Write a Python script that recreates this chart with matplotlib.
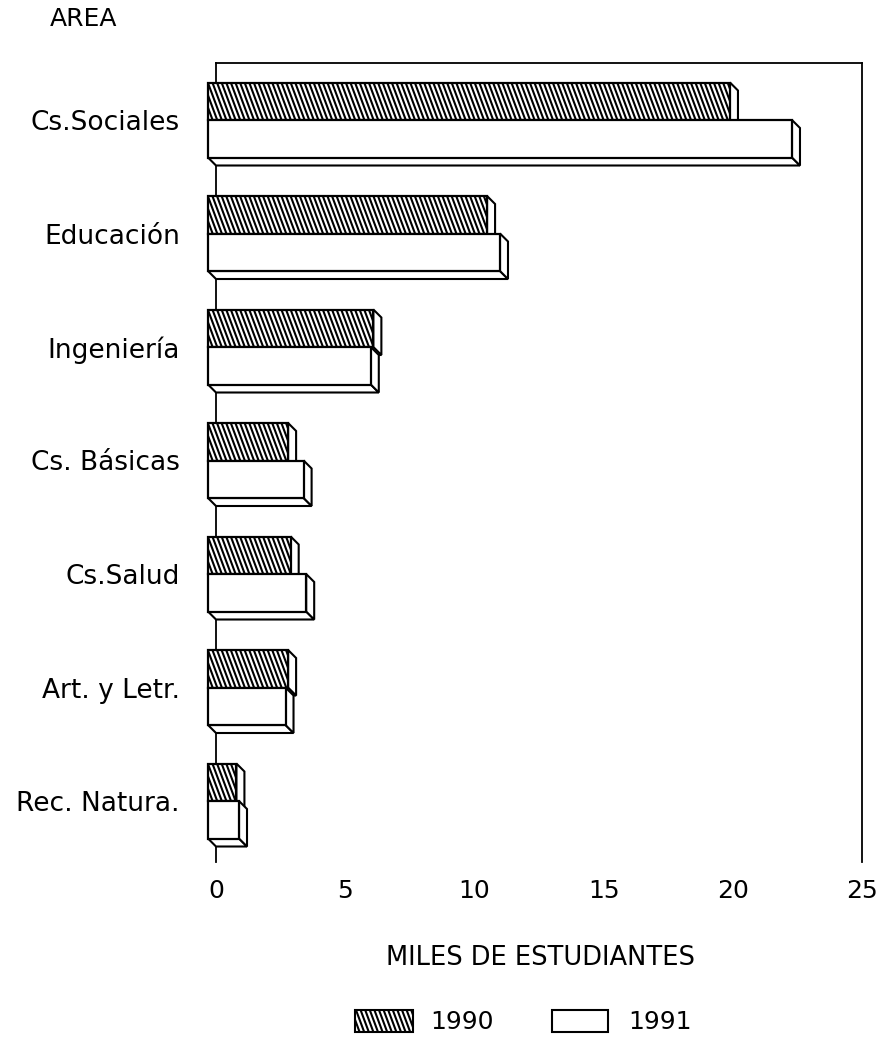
import matplotlib
matplotlib.use("Agg")
import matplotlib.pyplot as plt
import numpy as np
from matplotlib.patches import Polygon, Rectangle
from matplotlib.collections import LineCollection

categories = ['Cs.Sociales', 'Educación', 'Ingeniería', 'Cs. Básicas',
              'Cs.Salud', 'Art. y Letr.', 'Rec. Natura.']
v1990 = [20.2, 10.8, 6.4, 3.1, 3.2, 3.1, 1.1]
v1991 = [22.6, 11.3, 6.3, 3.7, 3.8, 3.0, 1.2]
xticks = [0, 5, 10, 15, 20, 25]
series_labels = ['1990', '1991']

plt.rcParams['font.family'] = ['DejaVu Sans']

W, H = 884, 1043
fig = plt.figure(figsize=(W / 100, H / 100), dpi=100)
L, R, T, B = 216, 862, 63, 862
ax = fig.add_axes([L / W, 1 - B / H, (R - L) / W, (B - T) / H])
ax.set_xlim(0, 25)
spacing_px = 113.5
ytop = -(128 - 63) / spacing_px
ybot = ytop + (B - T) / spacing_px
ax.set_ylim(ybot, ytop)

px_per_unit = (R - L) / 25
dx = 8 / px_per_unit
dy = 8 / spacing_px
bh = 37.5 / spacing_px

HATCH_STEP_PX = 4.6
HATCH_SHIFT_PX = 14.0
HATCH_LW = 1.5

z = [3]


def hatch_lines(x0, x1, yt, yb, step, shift):
    xs = np.arange(x0 - shift, x1 + step, step)
    return [[(x, yt), (x + shift, yb)] for x in xs]


def bar3d(v, y0, y1, hatched):
    kw = dict(closed=True, fc='white', ec='black', lw=1.5, clip_on=False,
              joinstyle='miter')
    zz = z[0]
    ax.add_patch(Polygon([(-dx, y1 - dy), (0, y1), (v, y1), (v - dx, y1 - dy)],
                         zorder=zz, **kw))
    ax.add_patch(Polygon([(v - dx, y0 - dy), (v, y0), (v, y1), (v - dx, y1 - dy)],
                         zorder=zz, **kw))
    fx0, fx1, fy0, fy1 = -dx, v - dx, y0 - dy, y1 - dy
    front = Polygon([(fx0, fy0), (fx1, fy0), (fx1, fy1), (fx0, fy1)],
                    closed=True, fc='white', ec='none', clip_on=False,
                    zorder=zz + 0.2)
    ax.add_patch(front)
    if hatched:
        segs = hatch_lines(fx0, fx1, fy0, fy1,
                           HATCH_STEP_PX / px_per_unit,
                           HATCH_SHIFT_PX / px_per_unit)
        lc = LineCollection(segs, colors='black', lw=HATCH_LW, zorder=zz + 0.3)
        ax.add_collection(lc)
        lc.set_clip_on(True)
        lc.set_clip_box(None)
        lc.set_clip_path(front)
    ax.add_patch(Rectangle((fx0, fy0), v, y1 - y0, fc='none', ec='black',
                           lw=1.6, clip_on=False, zorder=zz + 0.5))
    z[0] += 1


for i, (a, b) in enumerate(zip(v1990, v1991)):
    bar3d(a, i - bh, i, True)
    bar3d(b, i, i + bh, False)

ax.set_yticks([i - dy for i in range(len(categories))])
ax.set_yticklabels(categories, fontsize=19)
ax.tick_params(axis='y', length=0, pad=26)
ax.set_xticks(xticks)
ax.set_xticklabels([str(t) for t in xticks], fontsize=18)
ax.tick_params(axis='x', length=0, pad=12)

for s in ['left', 'top', 'right']:
    ax.spines[s].set_linewidth(1.3)
ax.spines['bottom'].set_visible(False)

fig.text(50 / W, 1 - 19 / H, 'AREA', fontsize=18, ha='left', va='center')
fig.text(540 / W, 1 - 958 / H, 'MILES DE ESTUDIANTES', fontsize=18.5,
         ha='center', va='center')

# legend (drawn in figure pixel space)
lax = fig.add_axes([0, 0, 1, 1], facecolor='none')
lax.set_xlim(0, W)
lax.set_ylim(H, 0)
lax.axis('off')
for (x0, x1, tx), lab, hatched in zip([(355, 413, 430), (552, 608, 628)],
                                      series_labels, [True, False]):
    box = Polygon([(x0, 1010), (x1, 1010), (x1, 1032), (x0, 1032)],
                  closed=True, fc='white', ec='none')
    lax.add_patch(box)
    if hatched:
        lc = LineCollection(hatch_lines(x0, x1, 1010, 1032, HATCH_STEP_PX,
                                        HATCH_SHIFT_PX * 22 / 37.5),
                            colors='black', lw=HATCH_LW)
        lax.add_collection(lc)
        lc.set_clip_box(None)
        lc.set_clip_path(box)
    lax.add_patch(Rectangle((x0, 1010), x1 - x0, 22, fc='none', ec='black',
                            lw=1.5))
    lax.text(tx, 1022, lab, fontsize=18, ha='left', va='center')

fig.savefig('out.png', dpi=100)
